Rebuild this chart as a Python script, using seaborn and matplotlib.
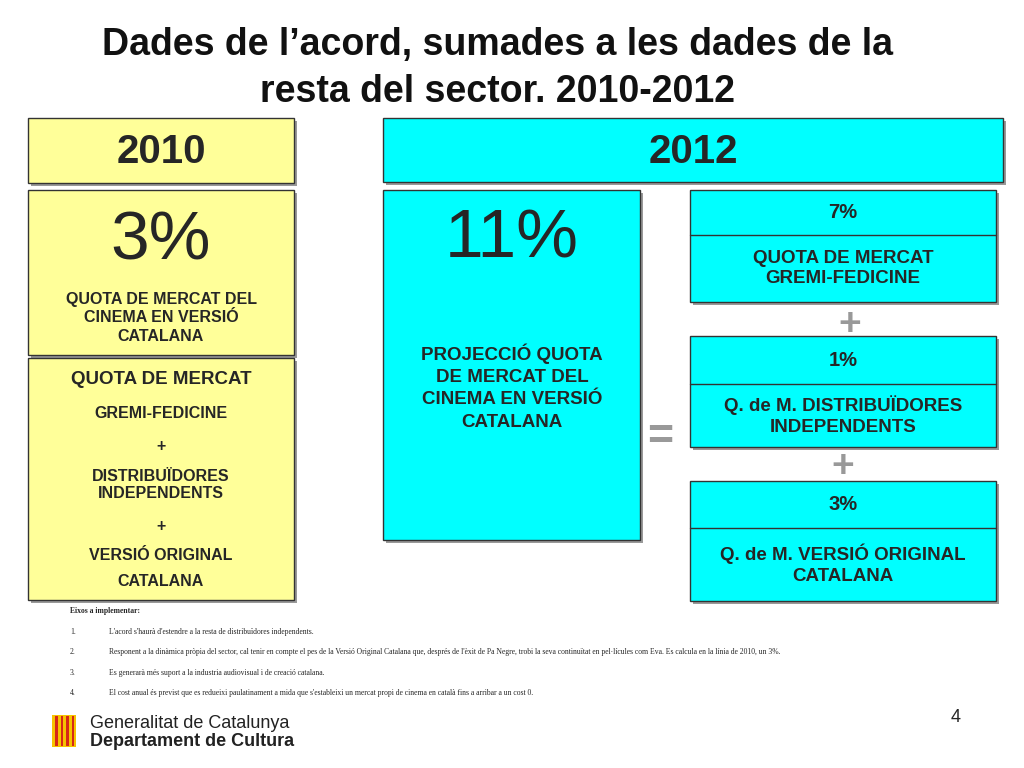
import matplotlib
matplotlib.use("Agg")
import matplotlib.pyplot as plt
from matplotlib.patches import Rectangle
import seaborn as sns

sns.set_style("white")

years = ["2010", "2012"]
share_2010 = [3]
share_2012 = [11]
components = [7, 1, 3]
component_labels = ["QUOTA DE MERCAT\nGREMI-FEDICINE",
                    "Q. de M. DISTRIBUÏDORES\nINDEPENDENTS",
                    "Q. de M. VERSIÓ ORIGINAL\nCATALANA"]
notes = [
    "L'acord s'haurà d'estendre a la resta de distribuïdores independents.",
    "Responent a la dinàmica pròpia del sector, cal tenir en compte el pes de la Versió Original Catalana que, després de l'èxit de Pa Negre, trobi la seva continuïtat en pel·lícules com Eva. Es calcula en la línia de 2010, un 3%.",
    "Es generarà més suport a la industria audiovisual i de creació catalana.",
    "El cost anual és previst que es redueixi paulatinament a mida que s'estableixi un mercat propi de cinema en català fins a arribar a un cost 0.",
]

YEL = "#FFFF99"
CYA = "#00FFFF"
FONT = ["Liberation Sans", "DejaVu Sans"]
NARROW = ["Liberation Sans Narrow", "Liberation Sans", "DejaVu Sans"]

fig = plt.figure(figsize=(10.24, 7.68), dpi=100)
ax = fig.add_axes([0, 0, 1, 1])
ax.set_xlim(0, 1024)
ax.set_ylim(768, 0)
ax.axis("off")

def box(x0, y0, x1, y1, fc):
    ax.add_patch(Rectangle((x0 + 3, y0 + 3), x1 - x0, y1 - y0, fc="#999999", ec="none", zorder=1))
    ax.add_patch(Rectangle((x0, y0), x1 - x0, y1 - y0, fc=fc, ec="#333333", lw=1, zorder=2))

def t(x, y, s, size, bold=True, family=FONT, **kw):
    ax.text(x, y, s, fontsize=size, fontweight="bold" if bold else "normal",
            family=family, ha=kw.pop("ha", "center"), va=kw.pop("va", "center"), zorder=3, **kw)

t(498, 45, "Dades de l’acord, sumades a les dades de la", 27, family=NARROW, color="#111111")
t(498, 92, "resta del sector. 2010-2012", 27, family=NARROW, color="#111111")

# 2010 column
box(28, 118, 294, 183, YEL)
t(161, 152, years[0], 29)
box(28, 190, 294, 355, YEL)
t(161, 242, f"{share_2010[0]}%", 50, bold=False)
t(161, 318, "QUOTA DE MERCAT DEL\nCINEMA EN VERSIÓ\nCATALANA", 11.5, linespacing=1.3)
box(28, 358, 294, 600, YEL)
t(161, 380, "QUOTA DE MERCAT", 13.5)
for y, s in [(413, "GREMI-FEDICINE"), (446, "+"), (485, "DISTRIBUÏDORES\nINDEPENDENTS"),
             (526, "+"), (556, "VERSIÓ ORIGINAL"), (582, "CATALANA")]:
    t(161, y, s, 11.5)

# 2012 column
box(383, 118, 1003, 182, CYA)
t(693, 152, years[1], 29)
box(383, 190, 640, 540, CYA)
t(512, 240, f"{share_2012[0]}%", 50, bold=False)
t(512, 387, "PROJECCIÓ QUOTA\nDE MERCAT DEL\nCINEMA EN VERSIÓ\nCATALANA", 13.5, linespacing=1.4)

rows = [(190, 235, 302), (336, 384, 447), (481, 528, 601)]
for (a, b, c), v, lab in zip(rows, components, component_labels):
    box(690, a, 996, c, CYA)
    ax.plot([690, 996], [b, b], color="#333333", lw=1, zorder=3)
    t(843, (a + b) / 2, f"{v}%", 14.5)
    t(843, (b + c) / 2, lab, 13.5, linespacing=1.3)

t(850, 325, "+", 28, color="#999999")
t(843, 467, "+", 28, color="#999999")
t(660, 437, "=", 32, color="#999999")

# notes
ax.text(70, 611, "Eixos a implementar:", fontsize=5.5, family="Liberation Serif",
        fontweight="bold", va="center", ha="left")
for i, (y, s) in enumerate(zip([632, 652, 673, 693], notes)):
    ax.text(70, y, f"{i+1}.", fontsize=5.5, family="Liberation Serif", va="center", ha="left")
    ax.text(109, y, s, fontsize=5.5, family="Liberation Serif", va="center", ha="left")

t(956, 717, "4", 13, bold=False)

# logo
ax.add_patch(Rectangle((52, 715), 24, 32, fc="#F6C300", ec="none"))
for k in range(4):
    ax.add_patch(Rectangle((55 + k * 5.5, 716), 2.5, 30, fc="#D62718", ec="none"))
t(90, 723, "Generalitat de Catalunya", 13, bold=False, ha="left", color="#222222")
t(90, 742, "Departament de Cultura", 13, ha="left", color="#222222")

fig.savefig("out.png", dpi=100)
